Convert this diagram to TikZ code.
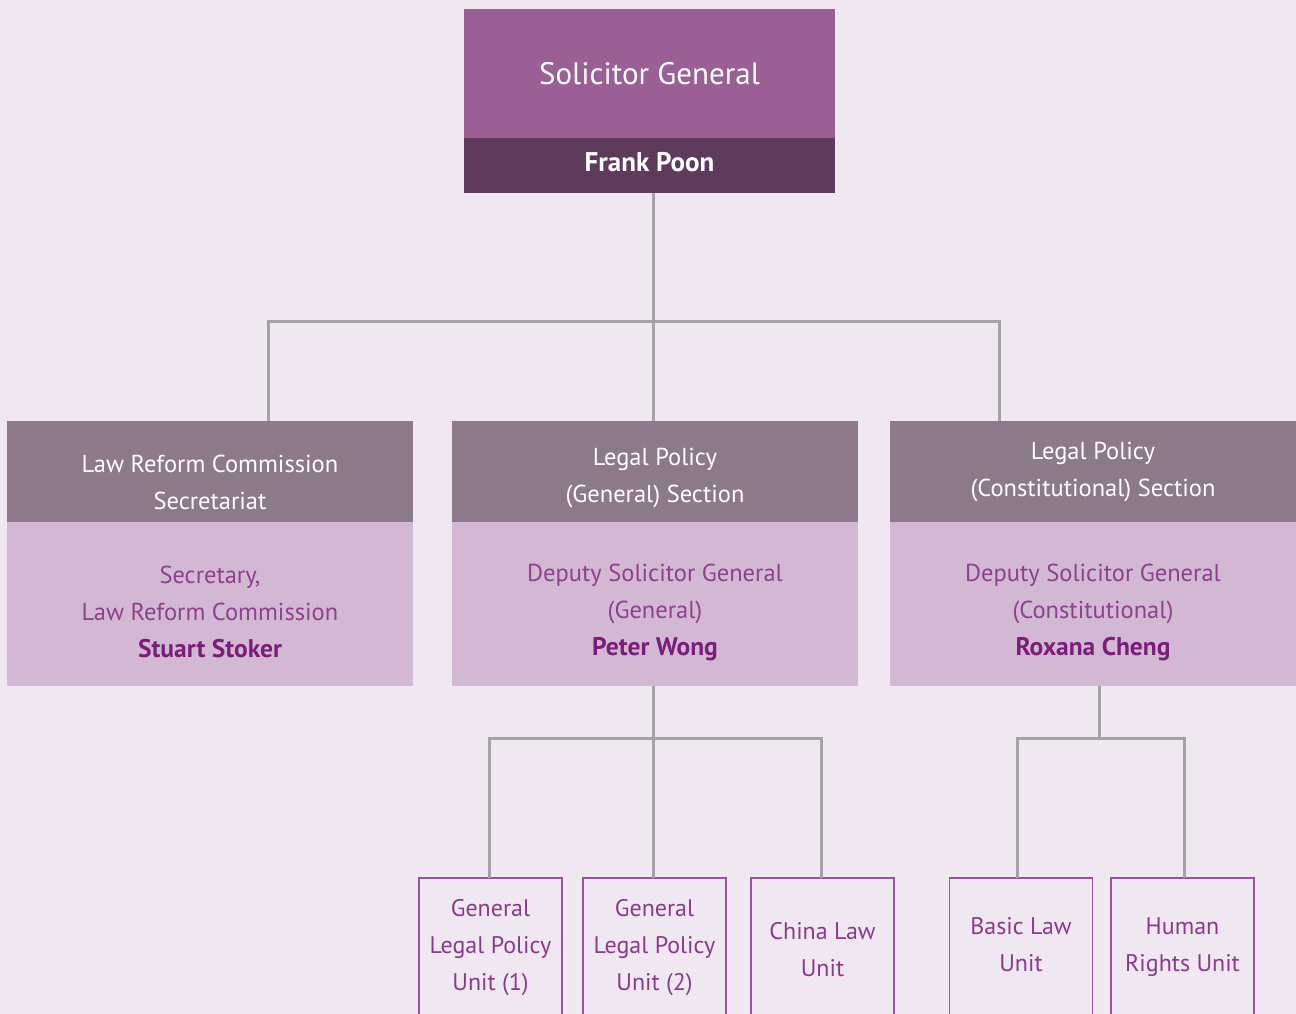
\documentclass[tikz,border=0pt]{standalone}
\usepackage{fontspec}
\setmainfont{PT Sans}
\usetikzlibrary{calc}
\definecolor{bgcol}{HTML}{F0E8F1}
\definecolor{sgcol}{HTML}{9A5F95}
\definecolor{sgdark}{HTML}{5E3B5B}
\definecolor{hdrcol}{HTML}{8C7A8A}
\definecolor{bodycol}{HTML}{D3B8D3}
\definecolor{bodytxt}{HTML}{8E3F8E}
\definecolor{nametxt}{HTML}{7A1E7A}
\definecolor{unitline}{HTML}{9B509B}
\definecolor{unittxt}{HTML}{8A3A8A}
\definecolor{conncol}{HTML}{A3A3A3}
% Office holder's name inside a section box
\newcommand\personname[1]{{\color{nametxt}\fontsize{25.5}{37}\selectfont\bfseries #1}}
\begin{document}
\begin{tikzpicture}[x=1pt,y=-1pt,
  box/.style={rectangle,inner sep=0pt,outer sep=0pt,draw=none},
  sgbox/.style={box,fill=sgcol,minimum width=371pt,minimum height=129pt},
  sgtext/.style={box,text=white,font=\fontsize{31}{40}\selectfont},
  sgname/.style={box,fill=sgdark,minimum width=371pt,minimum height=55pt},
  sgnametext/.style={box,text=white,font=\fontsize{27}{30}\selectfont\bfseries},
  hdrbox/.style={box,fill=hdrcol,minimum width=406pt,minimum height=101pt},
  hdrtext/.style={box,text=white,align=center,font=\fontsize{24.5}{37}\selectfont},
  bodybox/.style={box,fill=bodycol,minimum width=406pt,minimum height=164pt},
  bodytext/.style={box,text=bodytxt,align=center,font=\fontsize{24.5}{37}\selectfont},
  unitbox/.style={box,draw=unitline,line width=1.5pt,minimum width=143pt,minimum height=160pt},
  unittext/.style={box,text=unittxt,align=center,font=\fontsize{24}{37}\selectfont},
  conn/.style={draw=conncol,line width=3pt}]
\useasboundingbox (0,0) rectangle (1296,1014);
\clip (0,0) rectangle (1296,1014);
\fill[bgcol] (0,0) rectangle (1296,1014);

% Solicitor General
\node[sgbox] (sg) at (649.5,73.5) {};
\node[sgname] (fp) at (649.5,165.5) {};
\node[sgtext] (sgt) at (649.5,74) {Solicitor General};
\node[sgnametext] (fpt) at (649.5,162) {Frank Poon};

% Section headers
\node[hdrbox] (h1) at (210,471.5) {};
\node[hdrbox] (h2) at (655,471.5) {};
\node[hdrbox] (h3) at (1093,471.5) {};
\node[hdrtext] (h1t) at (210,482) {Law Reform Commission\\Secretariat};
\node[hdrtext] (h2t) at (655,478.5) {Legal Policy\\(General) Section};
\node[hdrtext] (h3t) at (1093,472.5) {Legal Policy\\(Constitutional) Section};

% Section heads
\node[bodybox] (b1) at (210,604) {};
\node[bodybox] (b2) at (655,604) {};
\node[bodybox] (b3) at (1093,604) {};
\node[bodytext] (b1t) at (210,612) {Secretary,\\Law Reform Commission\\\personname{Stuart Stoker}};
\node[bodytext] (b2t) at (655,612) {Deputy Solicitor General\\(General)\\\personname{Peter Wong}};
\node[bodytext] (b3t) at (1093,612) {Deputy Solicitor General\\(Constitutional)\\\personname{Roxana Cheng}};

% Units
\node[unitbox] (u1) at (490.5,958) {};
\node[unitbox] (u2) at (654.5,958) {};
\node[unitbox] (u3) at (822.5,958) {};
\node[unitbox] (u4) at (1021,958) {};
\node[unitbox] (u5) at (1182.5,958) {};
\node[unittext] (u1t) at (490.5,948) {General\\Legal Policy\\Unit (1)};
\node[unittext] (u2t) at (654.5,948) {General\\Legal Policy\\Unit (2)};
\node[unittext] (u3t) at (822.5,950) {China Law\\Unit};
\node[unittext] (u4t) at (1021,945) {Basic Law\\Unit};
\node[unittext] (u5t) at (1182.5,947.5) {Human\\Rights Unit};

% Connector junctions
\coordinate (bus1) at (653,321);
\coordinate (bl) at (268,321);
\coordinate (br) at (999,321);
\coordinate (bus2) at (653,738);
\coordinate (bus2l) at (489,738);
\coordinate (bus2r) at (821,738);
\coordinate (bus3) at (1099,738);
\coordinate (bus3l) at (1017,738);
\coordinate (bus3r) at (1184,738);

% Top tier
\draw[conn] (fp.south -| bus1) -- (h2.north -| bus1);
\draw[conn] (h1.north -| bl) -- (bl) -- (br) -- (h3.north -| br);

% General section units
\draw[conn] (b2.south -| bus2) -- (u2.north -| bus2);
\draw[conn] (u1.north -| bus2l) -- (bus2l) -- (bus2r) -- (u3.north -| bus2r);

% Constitutional section units
\draw[conn] (b3.south -| bus3) -- (bus3);
\draw[conn] (u4.north -| bus3l) -- (bus3l) -- (bus3r) -- (u5.north -| bus3r);
\end{tikzpicture}
\end{document}
